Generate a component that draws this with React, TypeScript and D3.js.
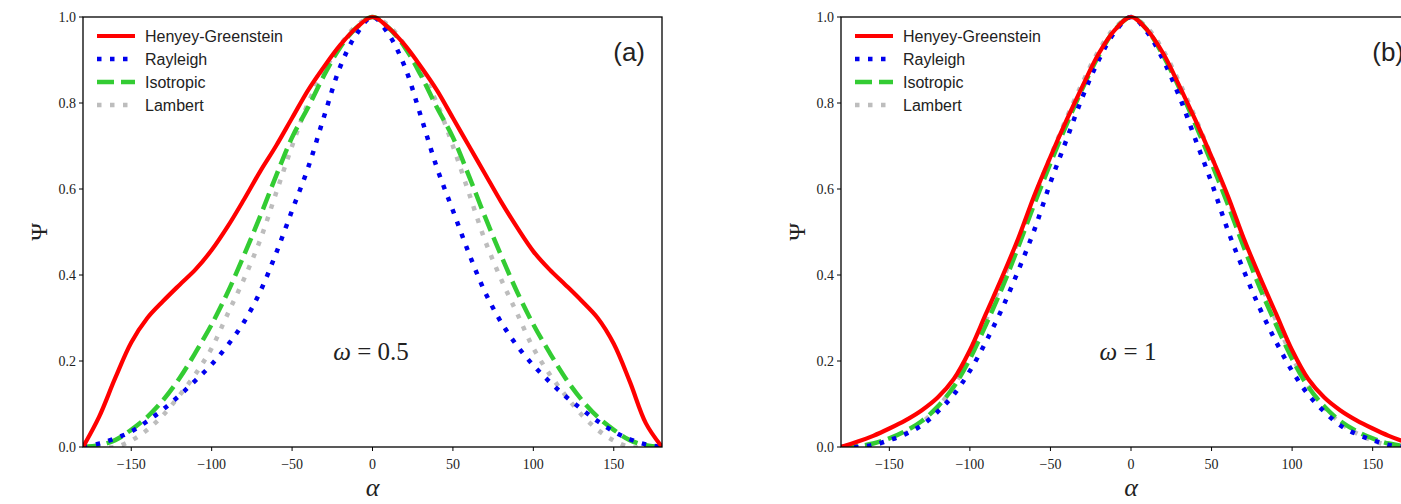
import React from "react";
import * as d3 from "d3";

// Phase angle grid (degrees)
const alphas = [
  -180, -170, -160, -150, -140, -130, -120, -110, -100, -90, -80, -70, -60, -50, -40, -30, -20, -10,
  0, 10, 20, 30, 40, 50, 60, 70, 80, 90, 100, 110, 120, 130, 140, 150, 160, 170, 180,
];

// Panel (a): omega = 0.5
const hgA = [
  0.0, 0.07, 0.16, 0.243, 0.3, 0.34, 0.377, 0.413, 0.458, 0.513, 0.575, 0.64, 0.7, 0.765, 0.83, 0.885, 0.935, 0.975,
  1.0, 0.975, 0.935, 0.885, 0.83, 0.765, 0.7, 0.635, 0.57, 0.51, 0.455, 0.413, 0.377, 0.34, 0.3, 0.24, 0.152, 0.055, 0.0,
];
const rayA = [
  0.0, 0.008, 0.02, 0.036, 0.06, 0.088, 0.12, 0.155, 0.192, 0.237, 0.29, 0.36, 0.45, 0.55, 0.65, 0.77, 0.885, 0.96,
  1.0, 0.96, 0.885, 0.77, 0.65, 0.55, 0.45, 0.36, 0.29, 0.235, 0.19, 0.152, 0.118, 0.088, 0.06, 0.036, 0.018, 0.006, 0.0,
];
const isoA = [
  0.0, 0.004, 0.016, 0.04, 0.07, 0.11, 0.16, 0.22, 0.285, 0.36, 0.445, 0.535, 0.63, 0.72, 0.79, 0.865, 0.93, 0.975,
  1.0, 0.975, 0.93, 0.865, 0.79, 0.72, 0.63, 0.535, 0.445, 0.36, 0.285, 0.22, 0.16, 0.11, 0.07, 0.04, 0.016, 0.004, 0.0,
];
const lamA = [
  0.0, 0.0, 0.0, 0.015, 0.04, 0.075, 0.12, 0.17, 0.23, 0.31, 0.39, 0.48, 0.59, 0.7, 0.8, 0.875, 0.935, 0.98,
  1.0, 0.98, 0.935, 0.875, 0.8, 0.7, 0.59, 0.48, 0.39, 0.31, 0.23, 0.17, 0.12, 0.075, 0.04, 0.015, 0.0, 0.0, 0.0,
];

// Panel (b): omega = 1
const hgB = [
  0.0, 0.012, 0.026, 0.043, 0.062, 0.085, 0.115, 0.158, 0.225, 0.31, 0.395, 0.485, 0.585, 0.675, 0.76, 0.84, 0.915, 0.97,
  1.0, 0.97, 0.915, 0.84, 0.76, 0.675, 0.585, 0.485, 0.395, 0.31, 0.225, 0.158, 0.115, 0.085, 0.062, 0.043, 0.026, 0.012, 0.0,
];
const rayB = [
  0.0, 0.0, 0.005, 0.016, 0.03, 0.05, 0.082, 0.122, 0.177, 0.245, 0.322, 0.41, 0.505, 0.615, 0.715, 0.815, 0.9, 0.965,
  1.0, 0.965, 0.9, 0.815, 0.715, 0.615, 0.505, 0.41, 0.322, 0.245, 0.177, 0.122, 0.082, 0.05, 0.03, 0.016, 0.005, 0.0, 0.0,
];
const isoB = [
  0.0, 0.002, 0.008, 0.02, 0.037, 0.06, 0.094, 0.14, 0.205, 0.285, 0.37, 0.465, 0.565, 0.66, 0.75, 0.835, 0.91, 0.97,
  1.0, 0.97, 0.91, 0.835, 0.75, 0.66, 0.565, 0.465, 0.37, 0.285, 0.205, 0.14, 0.094, 0.06, 0.037, 0.02, 0.008, 0.002, 0.0,
];
const lamB = [
  0.0, 0.0, 0.004, 0.015, 0.032, 0.056, 0.092, 0.142, 0.21, 0.295, 0.385, 0.48, 0.58, 0.675, 0.765, 0.848, 0.922, 0.975,
  1.0, 0.975, 0.922, 0.848, 0.765, 0.675, 0.58, 0.48, 0.385, 0.295, 0.21, 0.142, 0.092, 0.056, 0.032, 0.015, 0.004, 0.0, 0.0,
];

const xTicks = [-150, -100, -50, 0, 50, 100, 150];
const yTicks = [0.0, 0.2, 0.4, 0.6, 0.8, 1.0];

const seriesNames = ["Henyey-Greenstein", "Rayleigh", "Isotropic", "Lambert"];

type Style = { color: string; width: number; dash: string | null };
const styles: Style[] = [
  { color: "#ff0000", width: 4.2, dash: null },
  { color: "#0000ee", width: 4.5, dash: "4.5 8.5" },
  { color: "#33cc33", width: 4.5, dash: "17 7" },
  { color: "#bdbdbd", width: 4.5, dash: "4.5 8.5" },
];

const serif = "'Liberation Serif', 'DejaVu Serif', serif";
const sans = "'Liberation Sans', Arial, sans-serif";

type PanelProps = {
  left: number;
  right: number;
  top: number;
  bottom: number;
  data: number[][];
  tag: string;
  omegaLabel: string;
  omegaX: number;
};

function Panel({ left, right, top, bottom, data, tag, omegaLabel, omegaX }: PanelProps) {
  const x = d3.scaleLinear().domain([-180, 180]).range([left, right]);
  const y = d3.scaleLinear().domain([0, 1]).range([bottom, top]);
  const line = d3
    .line<number>()
    .x((_, i) => x(alphas[i]))
    .y((v) => y(v))
    .curve(d3.curveCatmullRom.alpha(0.5));
  const clipId = `clip-${tag.replace(/[()]/g, "")}`;
  // draw order: the last series goes underneath
  const order = [3, 2, 1, 0];
  const legendRows = [36, 59, 82, 105];
  return (
    <g>
      <defs>
        <clipPath id={clipId}>
          <rect x={left} y={top - 4} width={right - left} height={bottom - top + 4} />
        </clipPath>
      </defs>
      <g clipPath={`url(#${clipId})`}>
        {order.map((k) => (
          <path
            key={k}
            d={line(data[k]) || ""}
            fill="none"
            stroke={styles[k].color}
            strokeWidth={styles[k].width}
            strokeDasharray={styles[k].dash || undefined}
          />
        ))}
      </g>
      {/* legend */}
      {seriesNames.map((name, k) => (
        <g key={name}>
          <line
            x1={left + 14}
            x2={left + 52}
            y1={legendRows[k]}
            y2={legendRows[k]}
            stroke={styles[k].color}
            strokeWidth={styles[k].width}
            strokeDasharray={styles[k].dash || undefined}
          />
          <text x={left + 62} y={legendRows[k] + 5.5} fontFamily={sans} fontSize={16} fill="#222">
            {name}
          </text>
        </g>
      ))}
      {/* frame */}
      <rect x={left} y={top} width={right - left} height={bottom - top} fill="none" stroke="#000" strokeWidth={1.3} />
      {/* x ticks */}
      {xTicks.map((t) => (
        <g key={t}>
          <line x1={x(t)} x2={x(t)} y1={bottom} y2={bottom + 4} stroke="#000" strokeWidth={1} />
          <text x={x(t)} y={bottom + 22} textAnchor="middle" fontFamily={serif} fontSize={14} fill="#222">
            {t < 0 ? `\u2212${-t}` : `${t}`}
          </text>
        </g>
      ))}
      {/* y ticks */}
      {yTicks.map((t) => (
        <g key={t}>
          <line x1={left - 4} x2={left} y1={y(t)} y2={y(t)} stroke="#000" strokeWidth={1} />
          <text x={left - 7} y={y(t) + 4.5} textAnchor="end" fontFamily={serif} fontSize={14} fill="#222">
            {t.toFixed(1)}
          </text>
        </g>
      ))}
      {/* axis labels */}
      <text x={(left + right) / 2} y={496} textAnchor="middle" fontFamily={serif} fontStyle="italic" fontSize={26} fill="#222">
        α
      </text>
      <text
        transform={`translate(${left - 36}, ${(top + bottom) / 2}) rotate(-90)`}
        textAnchor="middle"
        fontFamily={serif}
        fontSize={24}
        fill="#222"
      >
        Ψ
      </text>
      {/* panel tag */}
      <text x={right - 17} y={61} textAnchor="end" fontFamily={sans} fontSize={26} fill="#222">
        {tag}
      </text>
      {/* parameter annotation */}
      <text x={omegaX} y={360} textAnchor="middle" fontFamily={serif} fontSize={25} fill="#222">
        <tspan fontStyle="italic">ω</tspan>
        <tspan>{" = "}{omegaLabel}</tspan>
      </text>
    </g>
  );
}

export default function App() {
  return (
    <svg
      width={1401}
      height={504}
      style={{ position: "absolute", left: 0, top: 0, display: "block", background: "#fff" }}
    >
      <rect width={1401} height={504} fill="#fff" />
      <Panel
        left={83}
        right={662}
        top={17}
        bottom={447}
        data={[hgA, rayA, isoA, lamA]}
        tag="(a)"
        omegaLabel="0.5"
        omegaX={371}
      />
      <Panel
        left={841}
        right={1421}
        top={17}
        bottom={447}
        data={[hgB, rayB, isoB, lamB]}
        tag="(b)"
        omegaLabel="1"
        omegaX={1128}
      />
    </svg>
  );
}
